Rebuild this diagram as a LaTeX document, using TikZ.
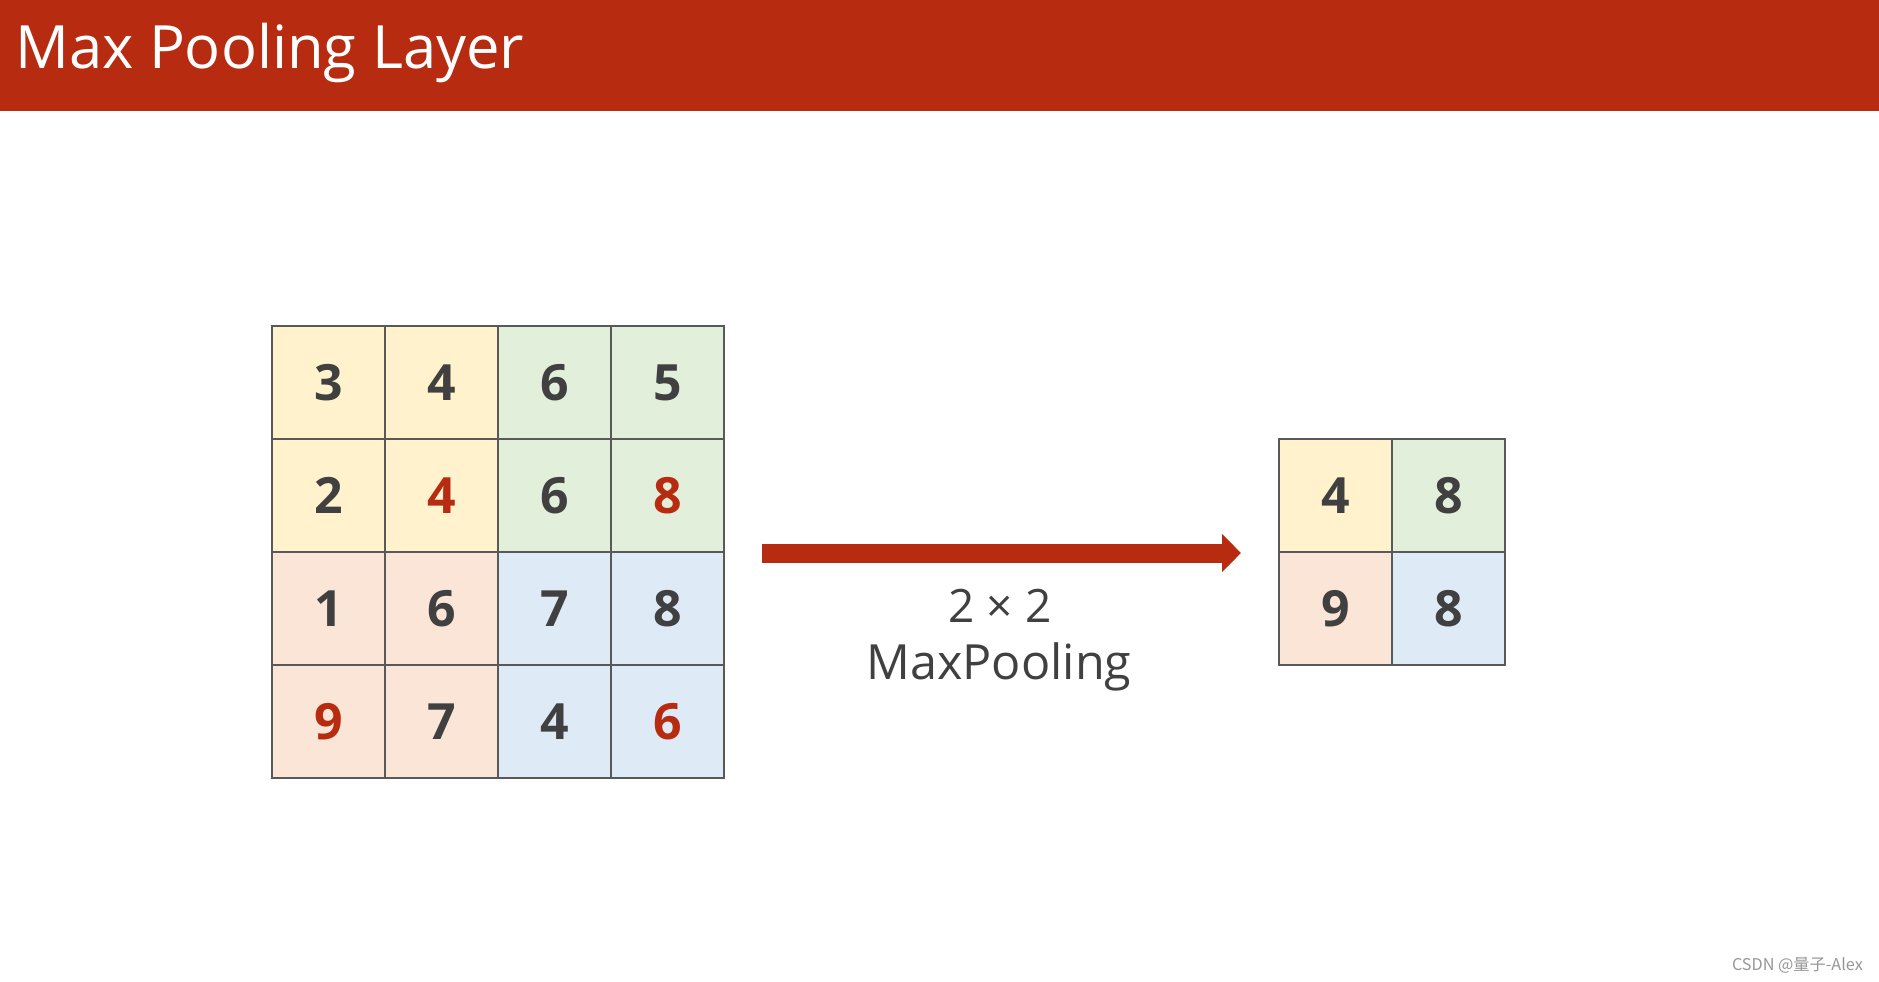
\documentclass[tikz,border=0pt]{standalone}
\usepackage{fontspec}
\setmainfont{Open Sans}
\newfontfamily\cjkfont{Noto Sans CJK SC}
\usetikzlibrary{arrows.meta}
\definecolor{hdrred}{RGB}{183,43,16}
\definecolor{numred}{RGB}{183,43,16}
\definecolor{cyel}{RGB}{255,242,204}
\definecolor{cgrn}{RGB}{226,239,218}
\definecolor{cpch}{RGB}{251,229,214}
\definecolor{cblu}{RGB}{222,235,247}
\definecolor{cline}{RGB}{89,89,89}
\definecolor{ctext}{RGB}{64,64,64}
\definecolor{cmark}{RGB}{150,150,150}
\tikzset{
  cell/.style={draw=cline, line width=2pt, minimum size=113pt, inner sep=0pt,
    font=\fontsize{50}{50}\selectfont\bfseries, text=ctext},
  hot/.style={text=numred},
  bigarrow/.style={draw=hdrred, line width=19pt, -{Triangle[length=19pt,width=37pt]}},
}
\begin{document}
\begin{tikzpicture}[x=1pt,y=-1pt]
\useasboundingbox (0,0) rectangle (1879,982);
\fill[hdrred] (0,0) rectangle (1879,111);
\node[anchor=base west, inner sep=0pt, text=white, font=\fontsize{59.7}{60}\selectfont] (title) at (15,69) {Max Pooling Layer};
% input grid
\def\gx{272}\def\gy{326}\def\cs{113}
\node[cell, fill=cyel] (c11) at (\gx+0.5*\cs,\gy+0.5*\cs) {3};
\node[cell, fill=cyel] (c12) at (\gx+1.5*\cs,\gy+0.5*\cs) {4};
\node[cell, fill=cgrn] (c13) at (\gx+2.5*\cs,\gy+0.5*\cs) {6};
\node[cell, fill=cgrn] (c14) at (\gx+3.5*\cs,\gy+0.5*\cs) {5};
\node[cell, fill=cyel] (c21) at (\gx+0.5*\cs,\gy+1.5*\cs) {2};
\node[cell, fill=cyel, hot] (c22) at (\gx+1.5*\cs,\gy+1.5*\cs) {4};
\node[cell, fill=cgrn] (c23) at (\gx+2.5*\cs,\gy+1.5*\cs) {6};
\node[cell, fill=cgrn, hot] (c24) at (\gx+3.5*\cs,\gy+1.5*\cs) {8};
\node[cell, fill=cpch] (c31) at (\gx+0.5*\cs,\gy+2.5*\cs) {1};
\node[cell, fill=cpch] (c32) at (\gx+1.5*\cs,\gy+2.5*\cs) {6};
\node[cell, fill=cblu] (c33) at (\gx+2.5*\cs,\gy+2.5*\cs) {7};
\node[cell, fill=cblu] (c34) at (\gx+3.5*\cs,\gy+2.5*\cs) {8};
\node[cell, fill=cpch, hot] (c41) at (\gx+0.5*\cs,\gy+3.5*\cs) {9};
\node[cell, fill=cpch] (c42) at (\gx+1.5*\cs,\gy+3.5*\cs) {7};
\node[cell, fill=cblu] (c43) at (\gx+2.5*\cs,\gy+3.5*\cs) {4};
\node[cell, fill=cblu, hot] (c44) at (\gx+3.5*\cs,\gy+3.5*\cs) {6};
% output grid
\def\ox{1279}\def\oy{439}
\node[cell, fill=cyel] (o11) at (\ox+0.5*\cs,\oy+0.5*\cs) {4};
\node[cell, fill=cgrn] (o12) at (\ox+1.5*\cs,\oy+0.5*\cs) {8};
\node[cell, fill=cpch] (o21) at (\ox+0.5*\cs,\oy+1.5*\cs) {9};
\node[cell, fill=cblu] (o22) at (\ox+1.5*\cs,\oy+1.5*\cs) {8};
% arrow
\draw[bigarrow] ([xshift=37pt]c24.south east) -- ([xshift=-37pt]o11.south west);
\node[anchor=base, inner sep=0pt, text=ctext, font=\fontsize{46}{46}\selectfont] (lab1) at (1000,622) {2 × 2};
\node[anchor=base, inner sep=0pt, text=ctext, font=\fontsize{48.5}{48}\selectfont] (lab2) at (999,679) {MaxPooling};
% watermark
\node[anchor=base east, inner sep=0pt, text=cmark, font=\cjkfont\fontsize{16.2}{16}\selectfont] (wm) at (1863,970) {CSDN @量子-Alex};
\end{tikzpicture}
\end{document}
